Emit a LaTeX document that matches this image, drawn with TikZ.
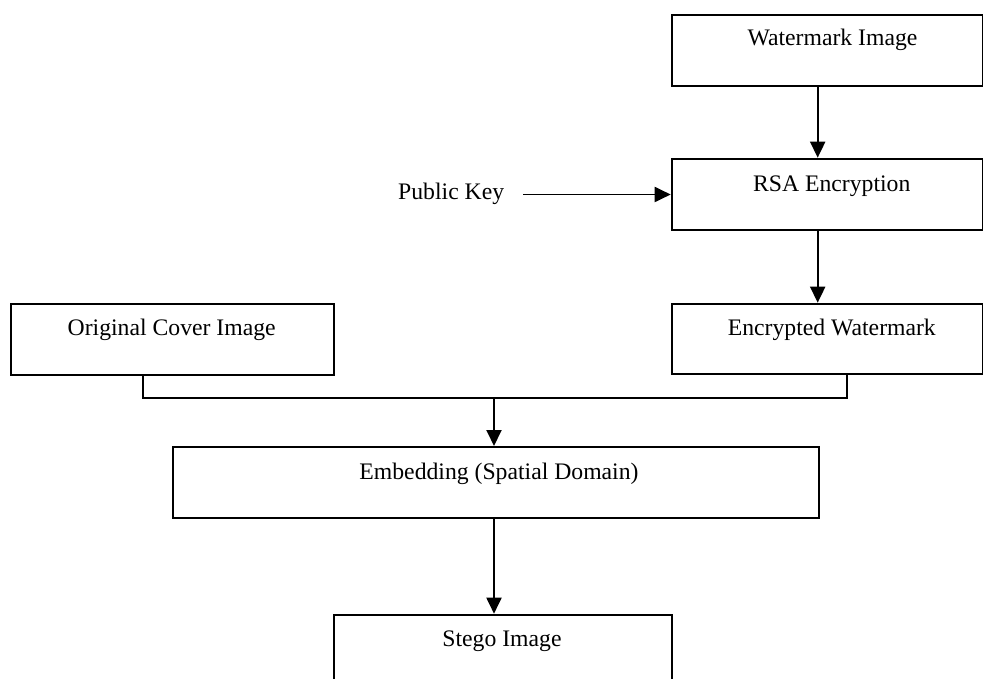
\documentclass[tikz,border=0pt]{standalone}
\usepackage{fontspec}
\setmainfont{Liberation Serif}
\usetikzlibrary{arrows.meta,calc}
\begin{document}
\begin{tikzpicture}[x=1pt,y=-1pt,
  box/.style={draw=black,line width=2pt,fill=white,rectangle,inner sep=0pt,anchor=north west},
  lbl/.style={anchor=base,inner sep=0pt,font=\fontsize{23.7}{28}\selectfont},
  conn/.style={draw=black,line width=1.9pt},
  arr/.style={conn,-{Triangle[length=16pt,width=15pt]}}]
\useasboundingbox (0,0) rectangle (983,679);
\clip (0,0) rectangle (983,679);
% boxes
\node[box,minimum width=311.3pt,minimum height=71pt] (wm) at (670.7,14) {};
\node[box,minimum width=311.3pt,minimum height=71.6pt] (rsa) at (670.7,157.7) {};
\node[box,minimum width=311.3pt,minimum height=70.6pt] (enc) at (670.7,302.7) {};
\node[box,minimum width=323.3pt,minimum height=71pt] (orig) at (10,303.3) {};
\node[box,minimum width=646pt,minimum height=71.3pt] (emb) at (171.7,446) {};
\node[box,minimum width=338pt,minimum height=90pt] (stego) at (332.7,613.7) {};
% labels
\node[lbl] (wmt) at (832.5,46) {Watermark Image};
\node[lbl] (rsat) at (831.7,191.5) {RSA Encryption};
\node[lbl] (enct) at (831.8,335) {Encrypted Watermark};
\node[lbl] (origt) at (171.7,335.5) {Original Cover Image};
\node[lbl] (embt) at (499,479) {Embedding (Spatial Domain)};
\node[lbl] (stegot) at (502,646.7) {Stego Image};
\node[lbl,anchor=base west] (pk) at (398,200) {Public Key};
% coordinates
\coordinate (ax) at (817.7,0);
\coordinate (j) at (494,397.7);
\coordinate (lo) at (142.7,0);
\coordinate (ro) at (846.7,0);
\coordinate (pks) at (523,0);
% connectors
\draw[arr] (wm.south -| ax) -- (rsa.north -| ax);
\draw[arr] (rsa.south -| ax) -- (enc.north -| ax);
\draw[arr] (rsa.west -| pks) -- (rsa.west);
\draw[conn,line join=miter] (orig.south -| lo) |- (j) -| (enc.south -| ro);
\draw[arr] (j) -- (emb.north -| j);
\draw[arr] (emb.south -| j) -- (stego.north -| j);
\end{tikzpicture}
\end{document}
